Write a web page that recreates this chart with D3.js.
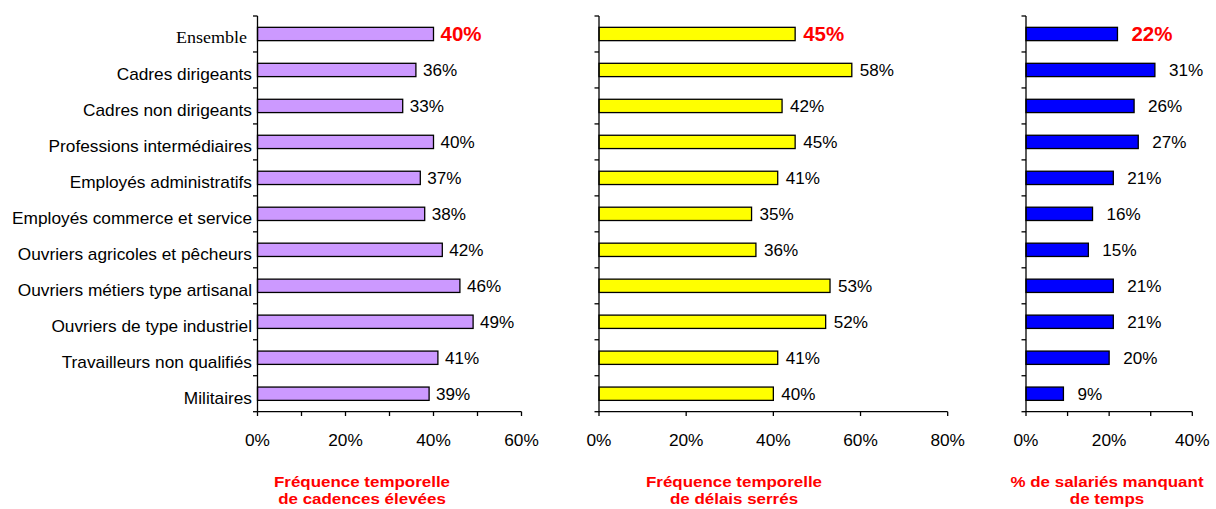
<!DOCTYPE html>
<html><head><meta charset="utf-8">
<script src="https://cdn.jsdelivr.net/npm/d3@7"></script>
<style>body{margin:0;background:#fff}svg{display:block}</style>
</head><body>
<script>
const categories = ["Ensemble","Cadres dirigeants","Cadres non dirigeants","Professions intermédiaires","Employés administratifs","Employés commerce et service","Ouvriers agricoles et pêcheurs","Ouvriers métiers type artisanal","Ouvriers de type industriel","Travailleurs non qualifiés","Militaires"];
const cadences = [40,36,33,40,37,38,42,46,49,41,39];
const delais = [45,58,42,45,41,35,36,53,52,41,40];
const manque = [22,31,26,27,21,16,15,21,21,20,9];
const titles = [["Fréquence temporelle","de cadences élevées"],["Fréquence temporelle","de délais serrés"],["% de salariés manquant","de temps"]];
const tickLabels1 = ["0%","20%","40%","60%"];
const tickLabels2 = ["0%","20%","40%","60%","80%"];
const tickLabels3 = ["0%","20%","40%"];

const W=1216,H=509;
const svg=d3.select("body").append("svg").attr("width",W).attr("height",H);
const y=d3.scaleBand().domain(categories).range([16,411.7]).paddingInner(0.63).paddingOuter(0.315);
const yb=d3.scaleBand().domain(categories).range([16,411.7]);

const panels=[
 {vals:cadences,x0:257.5,x1:521.5,max:60,minor:10,labels:tickLabels1,color:"#CC99FF",off:7,title:titles[0],tx:362},
 {vals:delais,x0:599,x1:947.7,max:80,minor:20,labels:tickLabels2,color:"#FFFF00",off:8,title:titles[1],tx:734},
 {vals:manque,x0:1026,x1:1192.3,max:40,minor:10,labels:tickLabels3,color:"#0000FF",off:14,title:titles[2],tx:1107}
];
function txt(g,x,yy,s,sx){return g.append("text").attr("transform",`translate(${x},${yy}) scale(${sx},1)`).text(s);}

panels.forEach(p=>{
  const x=d3.scaleLinear().domain([0,p.max]).range([p.x0,p.x1]);
  const g=svg.append("g");
  // bars
  g.selectAll("rect").data(p.vals).join("rect")
   .attr("x",x(0)).attr("y",(d,i)=>y(categories[i]))
   .attr("width",d=>x(d)-x(0)).attr("height",y.bandwidth())
   .attr("fill",p.color).attr("stroke","#000").attr("stroke-width",1.3);
  // value labels
  p.vals.forEach((v,i)=>{
    const cy=y(categories[i])+y.bandwidth()/2;
    const t=txt(g,x(v)+p.off,cy+(i===0?7.5:6.5),v+"%",i===0?1.05:1.07)
      .attr("font-family","Liberation Sans, Arial, sans-serif");
    if(i===0) t.attr("font-size",19.5).attr("font-weight","bold").attr("fill","#FF0000");
    else t.attr("font-size",16).attr("fill","#000");
  });
  // y axis
  g.append("line").attr("x1",p.x0).attr("x2",p.x0).attr("y1",16).attr("y2",411.7).attr("stroke","#000").attr("stroke-width",1.3);
  d3.range(categories.length+1).forEach(k=>{
    const yy=16+k*yb.step();
    g.append("line").attr("x1",p.x0-4.5).attr("x2",p.x0).attr("y1",yy).attr("y2",yy).attr("stroke","#000").attr("stroke-width",1.3);
  });
  // x axis
  g.append("line").attr("x1",p.x0).attr("x2",p.x1).attr("y1",411.7).attr("y2",411.7).attr("stroke","#000").attr("stroke-width",1.3);
  d3.range(0,p.max+0.001,p.minor).forEach(v=>{
    g.append("line").attr("x1",x(v)).attr("x2",x(v)).attr("y1",411.7).attr("y2",416).attr("stroke","#000").attr("stroke-width",1.3);
  });
  p.labels.forEach((s,i)=>{
    txt(g,x(i*20),446,s,1.08).attr("text-anchor","middle").attr("font-family","Liberation Sans, Arial, sans-serif").attr("font-size",16).attr("fill","#000");
  });
  // title
  p.title.forEach((s,i)=>{
    txt(g,p.tx,487+i*16.5,s,1.13).attr("text-anchor","middle").attr("font-family","Liberation Sans, Arial, sans-serif").attr("font-size",15).attr("font-weight","bold").attr("fill","#FF0000");
  });
});
// category labels
categories.forEach((c,i)=>{
  const cy=yb(c)+yb.step()/2;
  const t=txt(svg,252,cy+(i===0?9:10),c,i===0?1.03:1.08).attr("text-anchor","end").attr("fill","#000");
  if(i===0) t.attr("x",-5/1.03).attr("font-family","Liberation Serif, Times New Roman, serif").attr("font-size",17.5);
  else t.attr("font-family","Liberation Sans, Arial, sans-serif").attr("font-size",16);
});
</script>
</body></html>
